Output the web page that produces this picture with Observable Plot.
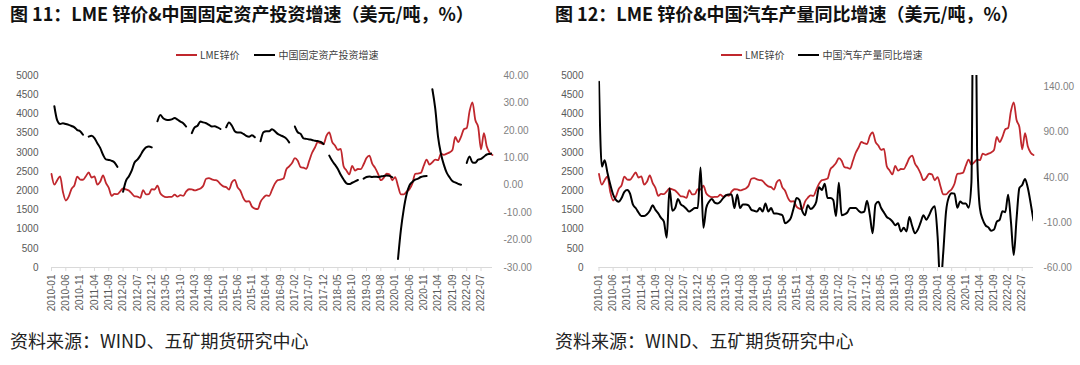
<!DOCTYPE html>
<html><head><meta charset="utf-8">
<script src="https://cdn.jsdelivr.net/npm/d3@7"></script>
<script src="https://cdn.jsdelivr.net/npm/@observablehq/plot@0.6"></script>
<style>
body{margin:0;background:#fff;}
#page{position:relative;width:1080px;height:365px;overflow:hidden;background:#fff;}
.title{position:absolute;top:4px;line-height:1;font-family:"Noto Sans CJK SC";font-weight:700;font-size:18px;color:#111;white-space:nowrap;}
.legend{position:absolute;top:50px;line-height:1;font-family:"Noto Sans CJK SC";font-size:10px;color:#404040;display:flex;align-items:center;white-space:nowrap;}
.sw{display:inline-block;width:21px;height:2px;margin-right:3px;}
.caption{position:absolute;top:331px;line-height:1;font-family:"Noto Sans CJK SC";font-size:18px;color:#222;white-space:nowrap;}
.layer{position:absolute;top:60px;}
</style></head><body><div id="page"></div>
<script>
// categories: monthly 2010-01 .. 2022-11
const months = d3.utcMonth.range(new Date(Date.UTC(2010,0,1)), new Date(Date.UTC(2022,11,1))).map(d3.utcFormat("%Y-%m"));
const tickMonths = months.filter((d,i) => i % 5 === 0);

// LME zinc price (USD/t)
const zinc = [
2435,2158,2275,2372,1967,1745,1844,2049,2141,2368,2291,2285,
2376,2475,2342,2371,2160,2232,2397,2203,2075,1864,1915,1909,
1985,2057,2035,2003,1929,1855,1848,1815,2015,1904,1911,2043,
2031,2129,1934,1860,1831,1840,1838,1897,1847,1883,1866,1975,
2038,2035,2008,2028,2059,2129,2310,2327,2293,2278,2255,2171,
2112,2093,2031,2220,2282,2088,1993,1808,1719,1728,1585,1533,
1520,1711,1815,1880,1867,2020,2185,2277,2289,2315,2557,2635,
2723,2849,2780,2613,2598,2572,2779,2988,3126,3268,3236,3216,
3428,3518,3273,3175,3062,3088,2639,2527,2426,2648,2523,2565,
2562,2688,2850,2912,2707,2593,2445,2273,2335,2441,2427,2272,
2355,2124,1906,1903,1976,2038,2180,2440,2447,2467,2652,2811,
2678,2740,2809,2795,2963,2935,2964,2998,3061,3399,3266,3400,
3601,3633,4071,4300,3841,3660,3077,3500,3150,2990,2930];

// China fixed-asset investment growth (%), no January values
const fai = [
null,28.8,23.6,22.3,22.6,22.3,22.0,21.6,21.1,20.1,19.7,18.4,
null,17.7,18.0,17.2,15.3,13.6,11.1,9.4,9.2,8.9,8.3,6.7,
null,-2.4,1.6,3.2,5.3,8.3,9.3,10.8,12.6,13.8,14.1,13.8,
null,23.3,25.6,24.4,23.9,23.8,24.0,24.5,23.9,23.2,22.6,21.4,
null,19.0,21.1,21.7,23.2,22.9,22.6,22.0,21.4,21.5,21.1,20.5,
null,21.1,22.9,21.7,19.7,19.2,19.2,18.7,18.0,17.7,18.2,17.5,
null,16.0,19.3,19.7,19.7,20.4,19.7,18.7,18.2,17.7,17.0,15.6,
null,21.4,19.3,18.7,17.1,16.9,16.7,16.5,16.2,16.1,15.8,15.0,
null,10.8,8.9,7.5,5.9,3.8,2.1,0.7,0.4,0.9,1.4,1.9,
null,2.4,3.0,3.2,3.0,3.1,3.0,3.2,3.4,3.5,3.4,2.9,
null,-26.9,-16.4,-8.8,-3.3,-0.1,1.2,2.0,2.4,3.0,3.3,3.4,
null,35.0,28.0,17.5,11.5,7.5,4.6,2.9,1.5,1.0,0.5,0.2,
null,8.1,10.5,8.3,8.2,9.3,9.6,10.4,11.2,11.4,11.6];

// China auto production YoY (%)
const auto = [
146,52,59,45,32,21,15,13,17,24,26,22,
10,6,1,-3,-3,-1,3,9,4,0,-5,-9,
-27,28,3,6,16,10,8,5,2,4,6,6,
51,-16,6,13,16,12,11,13,17,20,21,21,
6,21,6,10,10,9,4,3,2,6,2,11,
2,6,0,0,-1,-2,-11,-9,-5,6,17,15,
3,-2,9,5,7,13,29,26,33,17,17,15,
-3,34,-2,-1,1,6,6,6,3,1,2,14,
-2,-22,10,13,6,1,-4,-6,-9,-13,-11,-20,
-16,-20,-4,-14,-22,-18,-10,-2,-7,-2,5,8,
-25,-80,-44,2,18,22.5,21.9,6.3,13.2,11,11.1,6.4,
34.6,420,69.9,5.8,-6.8,-13.2,-15.5,-19.1,-17.9,-9.1,-7.1,2.4,
1.4,20.6,-9.1,-46.2,-5.7,28.2,31.5,38.3,28.1,11.1,-7.9];

const leftTicks = d3.range(0, 5001, 500);
const faiTicks = [-30,-20,-10,0,10,20,30,40];
const autoTicks = [-60,-10,40,90,140];

const rows = months.map((m,i) => ({month:m, zinc:zinc[i], fai:fai[i], auto:auto[i]}));

const page = document.getElementById("page");
const RED = "#c0272d";

function addDiv(cls, left, html){
  const d = document.createElement("div");
  d.className = cls; d.style.left = left + "px"; d.innerHTML = html;
  page.appendChild(d); return d;
}

function panel(cfg){
  addDiv("title", cfg.left + cfg.titleX, cfg.title);
  addDiv("legend", cfg.left + cfg.legX,
    `<span class="sw" style="background:${RED}"></span><span>LME锌价</span>` +
    `<span class="sw" style="background:#000;margin-left:${cfg.legGap}px"></span><span>${cfg.name}</span>`);
  addDiv("caption", cfg.left + cfg.titleX, "资料来源：WIND、五矿期货研究中心");

  const common = {
    width: 540, height: 260,
    marginTop: 15, marginBottom: 53, marginLeft: cfg.ml, marginRight: cfg.mr,
    style: {background: "transparent", overflow: "visible", fontFamily: "Liberation Sans, Arial, sans-serif", fontSize: "10px"}
  };

  const p1 = Plot.plot({
    ...common,
    x: {type: "point", domain: months, padding: 0, axis: null},
    y: {domain: [0, 5000], axis: null},
    marks: [
      Plot.ruleY([0], {stroke: "#d9d9d9", strokeWidth: 1}),
      Plot.axisX({ticks: tickMonths, tickRotate: -90, tickSize: 4, tickPadding: 3, stroke: "#d9d9d9", fill: "#595959", fontSize: 10, label: null}),
      Plot.axisY({ticks: leftTicks, tickSize: 0, tickPadding: cfg.lpad, fill: "#595959", fontSize: 10, label: null, tickFormat: d => String(d)}),
      Plot.line(rows, {x: "month", y: "zinc", stroke: RED, strokeWidth: 1.8, curve: "monotone-x"})
    ]
  });
  const p2 = Plot.plot({
    ...common,
    x: {type: "point", domain: months, padding: 0, axis: null},
    y: {domain: cfg.rdomain, axis: null},
    marks: [
      Plot.axisY({anchor: "right", ticks: cfg.rticks, tickSize: 0, tickPadding: cfg.rpad, fill: "#7f7f7f", fontSize: 10, label: null, tickFormat: d => d.toFixed(2)}),
      Plot.line(rows, {x: "month", y: cfg.key, stroke: "#000", strokeWidth: 2, curve: "monotone-x", clip: true})
    ]
  });
  for (const p of [p1, p2]) {
    const w = document.createElement("div");
    w.className = "layer"; w.style.left = cfg.left + "px";
    w.appendChild(p); page.appendChild(w);
  }
}

panel({left: 0, titleX: 10, legX: 176, legGap: 15, title: "图 11：LME 锌价&中国固定资产投资增速（美元/吨，%）",
  name: "中国固定资产投资增速", key: "fai", ml: 51, mr: 48, lpad: 13, rpad: 11, rdomain: [-30, 40], rticks: faiTicks});
panel({left: 540, titleX: 15, legX: 181, legGap: 14, title: "图 12：LME 锌价&中国汽车产量同比增速（美元/吨，%）",
  name: "中国汽车产量同比增速", key: "auto", ml: 58.5, mr: 47, lpad: 15.5, rpad: 10, rdomain: [-60, 153], rticks: autoTicks});
</script></body></html>
